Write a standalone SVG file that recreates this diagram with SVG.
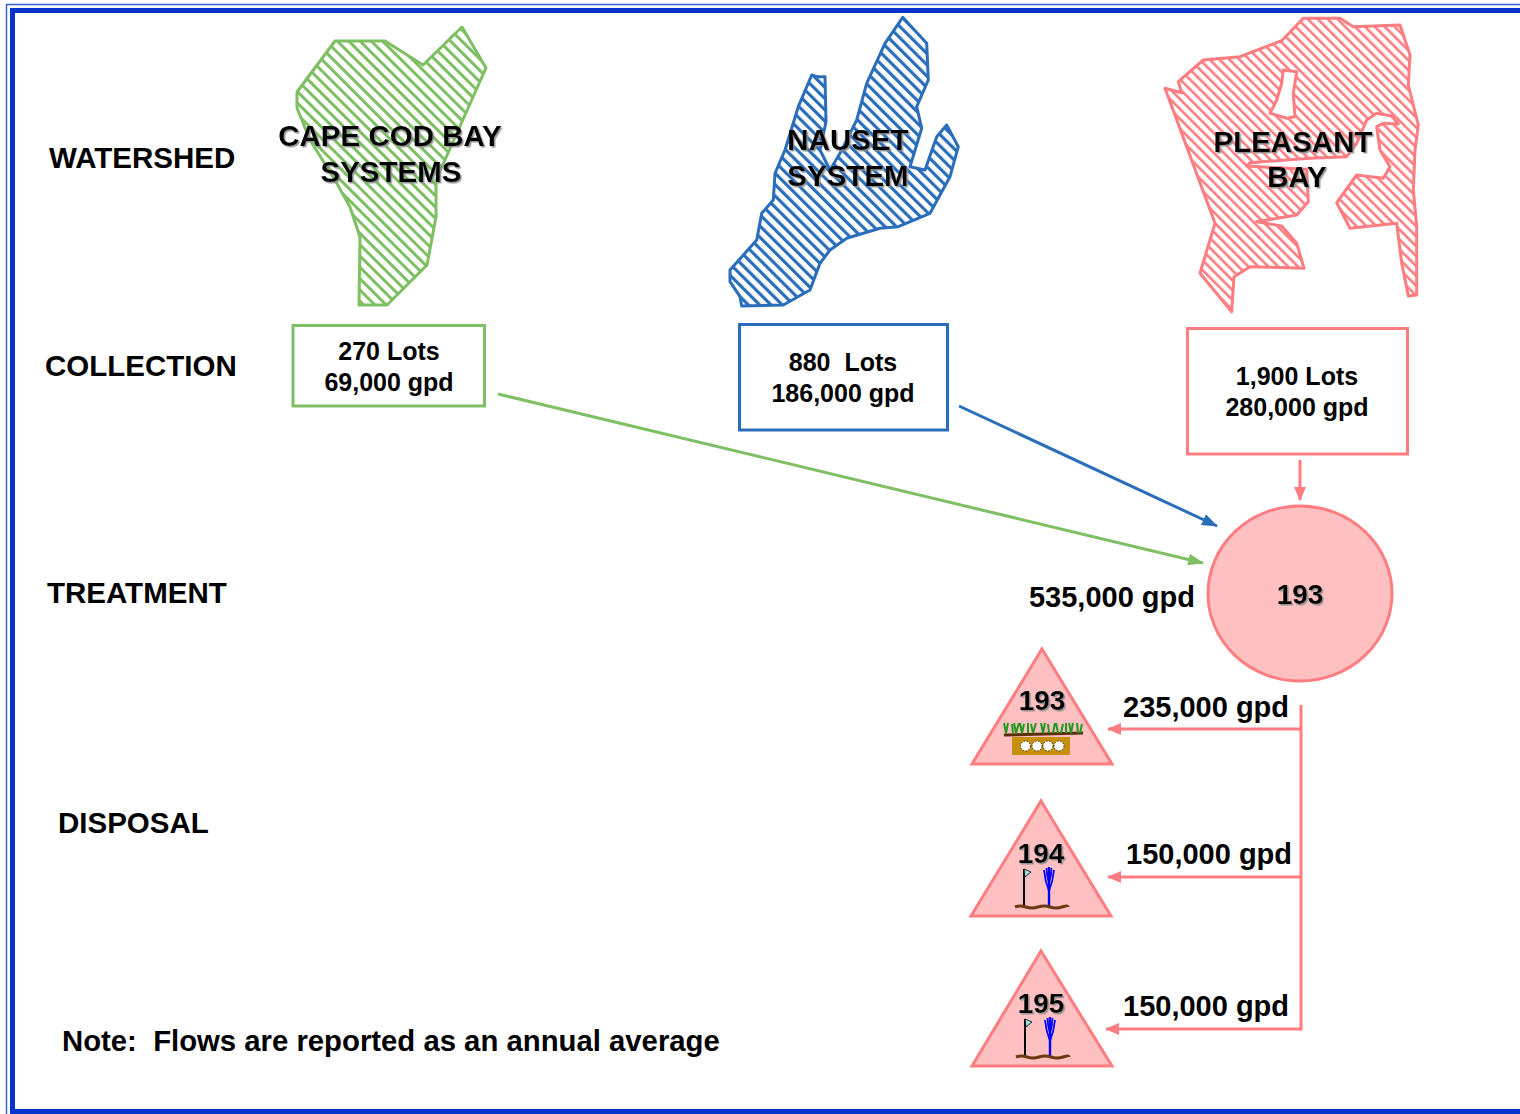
<svg xmlns="http://www.w3.org/2000/svg" width="1520" height="1114" viewBox="0 0 1520 1114">
<style>
.lbl{font-family:"Liberation Sans",Arial,sans-serif;font-weight:bold;font-size:29.5px;fill:#000}
.nt{font-family:"Liberation Sans",Arial,sans-serif;font-weight:bold;font-size:25px;fill:#000;text-anchor:middle}
.fl{font-size:29px}
.sh{filter:url(#shadow)}
.mid{text-anchor:middle}
.gline{stroke:#7fbf63;stroke-width:3;fill:none}
.bline{stroke:#2a6ebb;stroke-width:3;fill:none}
.pline{stroke:#ff7c80;stroke-width:3;fill:none}
</style>
<defs>
<filter id="shadow" x="-10%" y="-20%" width="130%" height="150%">
<feDropShadow dx="1.5" dy="1.5" stdDeviation="0.7" flood-color="#8a8a8a" flood-opacity="0.9"/>
</filter>
<pattern id="hg" width="8" height="8" patternUnits="userSpaceOnUse" patternTransform="rotate(-45)">
<rect width="8" height="8" fill="#fff"/><rect width="3" height="8" fill="#7fbf63"/>
</pattern>
<pattern id="hb" width="8" height="8" patternUnits="userSpaceOnUse" patternTransform="rotate(-45)">
<rect width="8" height="8" fill="#fff"/><rect width="3.2" height="8" fill="#2a6ebb"/>
</pattern>
<pattern id="hp" width="7" height="7" patternUnits="userSpaceOnUse" patternTransform="rotate(-45)">
<rect width="7" height="7" fill="#fff"/><rect width="2.6" height="7" fill="#ff7c80"/>
</pattern>
<marker id="ag" markerWidth="16" markerHeight="12" refX="15" refY="6" orient="auto" markerUnits="userSpaceOnUse"><path d="M0,0 L16,6 L0,12 Z" fill="#7fbf63"/></marker>
<marker id="ab" markerWidth="16" markerHeight="12" refX="15" refY="6" orient="auto" markerUnits="userSpaceOnUse"><path d="M0,0 L16,6 L0,12 Z" fill="#2a6ebb"/></marker>
<marker id="ap" markerWidth="14" markerHeight="12" refX="13" refY="6" orient="auto" markerUnits="userSpaceOnUse"><path d="M0,0 L14,6 L0,12 Z" fill="#ff7c80"/></marker>
<g id="flagfountain">
<line x1="0" y1="0" x2="0" y2="38" stroke="#000" stroke-width="2"/>
<path d="M0,0 L7,3 L1,8 Z" fill="#9fe0e8" stroke="#000" stroke-width="0.8"/>
<g stroke="#0000ff" fill="none" stroke-width="1.8">
<line x1="25" y1="-2" x2="25" y2="38" stroke-width="2.4"/>
<path d="M25,22 Q21,12 20,1"/><path d="M25,22 Q29,12 30,1"/>
<path d="M25,14 Q22.5,6 22.5,-1"/><path d="M25,14 Q27.5,6 27.5,-1"/>
</g>
<path d="M-9,38 Q-4,36 2,38 T14,38 T26,38 T38,38 T44,38" stroke="#6b3a12" stroke-width="3" fill="none"/>
</g>
</defs>
<rect width="1520" height="1114" fill="#fff"/>
<rect x="6.5" y="4.5" width="1530" height="1130" fill="none" stroke="#3a5fd8" stroke-width="1.5"/>
<rect x="12.5" y="10.5" width="1530" height="1101" fill="none" stroke="#0533cc" stroke-width="5"/>

<g id="labels">
<text class="lbl" x="49" y="168">WATERSHED</text>
<text class="lbl" x="45" y="376">COLLECTION</text>
<text class="lbl" x="47" y="603">TREATMENT</text>
<text class="lbl" x="58" y="833">DISPOSAL</text>
<text class="lbl" x="62" y="1051" style="font-size:29.3px" xml:space="preserve">Note:  Flows are reported as an annual average</text>
</g>

<g id="watershed-capecod">
<polygon points="335,41 385,41 423,65 462,27 486,68 436,180 436,217 427,265 387,305 359,305 360,237 350,207 335,180 310,140 297,108 297,92" fill="url(#hg)" stroke="#7fbf63" stroke-width="3" stroke-linejoin="round"/>
<text class="lbl mid sh" x="390" y="146">CAPE COD BAY</text>
<text class="lbl mid sh" x="391" y="182">SYSTEMS</text>
</g>

<g id="watershed-nauset">
<polygon points="902.7,17.3 926.7,43.3 928.3,80 916.7,106.7 921.7,128.3 910,166.7 925,170 936.7,136.7 946.7,125 958.3,146.7 950,176.7 930,213.3 898.3,226.7 880,228.3 846.7,238.3 830,250 820,263.3 810,290 783.3,305 741.7,306 740,296.7 730,281.7 730,270 756.7,240 761.7,213.3 773.3,200 775,173.3 785,150 798.3,106.7 811.7,75 816.7,76.7 825,76.7 826,121.7 820,150 830,170 840,153.3 856.7,120 866.7,83.3 885,43.3" fill="url(#hb)" stroke="#2a6ebb" stroke-width="3" stroke-linejoin="round"/>
<text class="lbl mid sh" x="848" y="150">NAUSET</text>
<text class="lbl mid sh" x="848" y="186">SYSTEM</text>
</g>

<g id="watershed-pleasant">
<path fill-rule="evenodd" d="M1165,88.3 L1181.7,92.7 L1178.3,81.7 L1203.3,60 L1240,56.7 L1281.7,40.7 L1303.3,18.3 L1340,18.3 L1353.3,26.7 L1400,25 L1410,55 L1408.3,85 L1418.3,125 L1415,150 L1413.3,190 L1416.7,226.7 L1416.7,295 L1408.3,296 L1401.7,263.3 L1396.7,223.3 L1350,228.3 L1336.7,202.7 L1356.7,175 L1383.3,178.3 L1390,166.7 L1380,150 L1376.7,126.7 L1383.3,123.3 L1398.3,124 L1391.7,116 L1376.7,113.3 L1366.7,120 L1356.7,143.3 L1346.7,156.7 L1310,158.3 L1250,162.7 L1246.7,166 L1306.7,169.3 L1308.3,201.7 L1296.7,215 L1256.7,221.7 L1281.7,226 L1296.7,243.3 L1304,268.3 L1250,266.7 L1234,276.7 L1231.7,311.7 L1200,273.3 L1215,223.3 Z M1283.3,70 L1296.7,71.7 L1293.3,93.3 L1295,116.7 L1286.7,118.3 L1270,113.3 L1276.7,100 L1281.7,83.3 Z" fill="url(#hp)" stroke="#ff7c80" stroke-width="3" stroke-linejoin="round"/>
<text class="lbl mid sh" x="1293" y="152">PLEASANT</text>
<text class="lbl mid sh" x="1297" y="187">BAY</text>
</g>

<g id="collection-capecod">
<rect x="293" y="325.5" width="191.5" height="80.5" fill="#fff" stroke="#7fbf63" stroke-width="3"/>
<text class="nt" x="389" y="360">270 Lots</text>
<text class="nt" x="389" y="391">69,000 gpd</text>
</g>
<g id="collection-nauset">
<rect x="739.5" y="324.5" width="208" height="105.5" fill="#fff" stroke="#2a6ebb" stroke-width="3"/>
<text class="nt" x="843" y="371" xml:space="preserve">880  Lots</text>
<text class="nt" x="843" y="402">186,000 gpd</text>
</g>
<g id="collection-pleasant">
<rect x="1187.5" y="328.5" width="220" height="125.5" fill="#fff" stroke="#ff7c80" stroke-width="3"/>
<text class="nt" x="1297" y="385">1,900 Lots</text>
<text class="nt" x="1297" y="416">280,000 gpd</text>
</g>

<g id="treatment-193">
<ellipse cx="1300" cy="593.5" rx="92" ry="87.5" fill="#ffc0c2" stroke="#ff7c80" stroke-width="3"/>
<text class="lbl mid sh" x="1300" y="604" style="font-size:28px">193</text>
</g>
<text id="flow-total" class="lbl fl" x="1195" y="607" text-anchor="end">535,000 gpd</text>

<g id="disposal-193">
<polygon points="1042,649 1112,764 972,764" fill="#ffc0c2" stroke="#ff7c80" stroke-width="3"/>
<text class="lbl mid sh" x="1042" y="710" style="font-size:28px">193</text>
<rect x="1012" y="737" width="58" height="18" fill="#c8900a"/>
<g fill="#fff" stroke="#000" stroke-width="0.8" stroke-dasharray="1.5,1.5">
<circle cx="1025.5" cy="746" r="5"/><circle cx="1037" cy="746" r="5"/><circle cx="1048" cy="746" r="5"/><circle cx="1059" cy="746" r="5"/>
</g>
<path d="M1004,735 L1083,733" stroke="#5a3008" stroke-width="3"/>
<path d="M1006,733 l-2,-10 M1006,733 l2,-10 M1013,733 l-1,-9 M1016,733 l-2,-10 M1016,733 l3,-10 M1022,733 l-2,-10 M1022,733 l2,-9 M1028,733 l0,-10 M1033,733 l-2,-9 M1033,733 l3,-10 M1043,733 l-2,-10 M1043,733 l2,-10 M1049,733 l-1,-9 M1053,733 l2,-10 M1058,733 l-2,-10 M1061,733 l2,-9 M1066,733 l0,-10 M1071,733 l-2,-10 M1071,733 l2,-10 M1078,733 l-1,-10 M1080,733 l2,-9" stroke="#1f9a1f" stroke-width="2" fill="none"/>
</g>

<g id="disposal-194">
<polygon points="1041,801 1111,916 971,916" fill="#ffc0c2" stroke="#ff7c80" stroke-width="3"/>
<text class="lbl mid sh" x="1041" y="863" style="font-size:28px">194</text>
<use href="#flagfountain" x="1024" y="869"/>
</g>

<g id="disposal-195">
<polygon points="1041,951 1112,1066 972,1066" fill="#ffc0c2" stroke="#ff7c80" stroke-width="3"/>
<text class="lbl mid sh" x="1041" y="1013" style="font-size:28px">195</text>
<use href="#flagfountain" x="1025" y="1019"/>
</g>

<g id="connectors">
<line class="gline" x1="498" y1="394" x2="1203" y2="563" marker-end="url(#ag)"/>
<line class="bline" x1="959" y1="406" x2="1217" y2="526" marker-end="url(#ab)"/>
<line class="pline" x1="1300" y1="460" x2="1300" y2="500" marker-end="url(#ap)"/>
<line class="pline" x1="1301" y1="705" x2="1301" y2="1030.5"/>
<line class="pline" x1="1301" y1="729" x2="1108" y2="729" marker-end="url(#ap)"/>
<line class="pline" x1="1301" y1="877" x2="1108" y2="877" marker-end="url(#ap)"/>
<line class="pline" x1="1301" y1="1029" x2="1106" y2="1029" marker-end="url(#ap)"/>
</g>
<g id="flow-labels">
<text class="lbl fl" x="1123" y="717">235,000 gpd</text>
<text class="lbl fl" x="1126" y="864">150,000 gpd</text>
<text class="lbl fl" x="1123" y="1016">150,000 gpd</text>
</g>
</svg>
